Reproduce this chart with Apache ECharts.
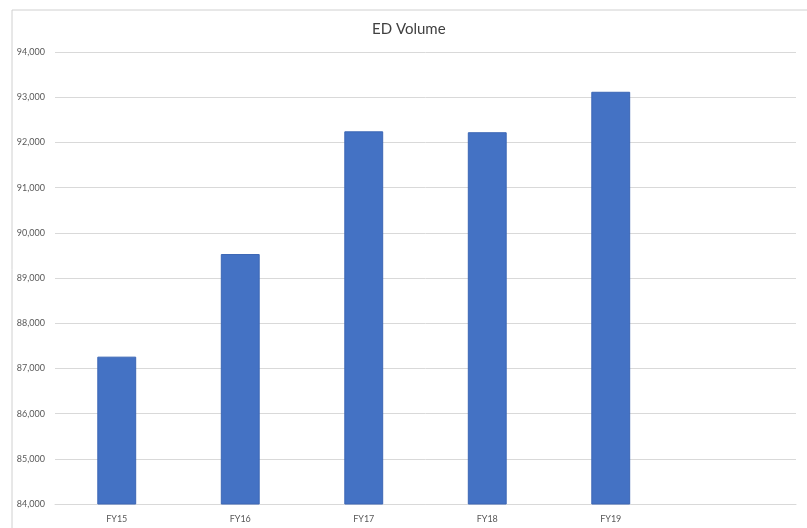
<!DOCTYPE html>
<html>
<head>
<meta charset="utf-8">
<script src="https://cdn.jsdelivr.net/npm/echarts@6/dist/echarts.min.js"></script>
<style>
html,body{margin:0;padding:0;background:#fff;}
#chart{width:807px;height:528px;}
</style>
</head>
<body>
<div id="chart"></div>
<script>
const categories = ['FY15', 'FY16', 'FY17', 'FY18', 'FY19', ''];
const edVolume = [87260, 89530, 92245, 92225, 93120, null];
const yMin = 84000;
const yMax = 94000;
const yStep = 1000;

const chart = echarts.init(document.getElementById('chart'));
chart.setOption({
  animation: false,
  backgroundColor: '#ffffff',
  title: {
    text: 'ED Volume',
    left: 367,
    top: 17,
    textStyle: { fontFamily: 'Lato', fontSize: 15, fontWeight: 'normal', color: '#404040' }
  },
  graphic: [{
    type: 'rect',
    shape: { x: 12, y: 10, width: 800, height: 530 },
    style: { fill: 'none', stroke: '#d0d0d0', lineWidth: 1 },
    silent: true
  }],
  grid: { left: 55, right: 11, top: 52, bottom: 24, containLabel: false },
  xAxis: {
    type: 'category',
    data: categories,
    axisLine: { show: true, lineStyle: { color: '#d9d9d9' } },
    axisTick: { show: false },
    axisLabel: { fontFamily: 'Lato', fontSize: 9, color: '#595959', margin: 11 }
  },
  yAxis: {
    type: 'value',
    min: yMin,
    max: yMax,
    interval: yStep,
    axisLine: { show: false },
    axisTick: { show: false },
    splitLine: { lineStyle: { color: '#d9d9d9', width: 1 } },
    axisLabel: {
      fontFamily: 'Lato', fontSize: 9, color: '#595959', margin: 10,
      formatter: v => v.toLocaleString('en-US')
    }
  },
  series: [{
    type: 'bar',
    data: edVolume,
    barWidth: '31.5%',
    itemStyle: { color: '#4472c4', borderColor: '#3c67b5', borderWidth: 1 }
  }]
});
</script>
</body>
</html>
